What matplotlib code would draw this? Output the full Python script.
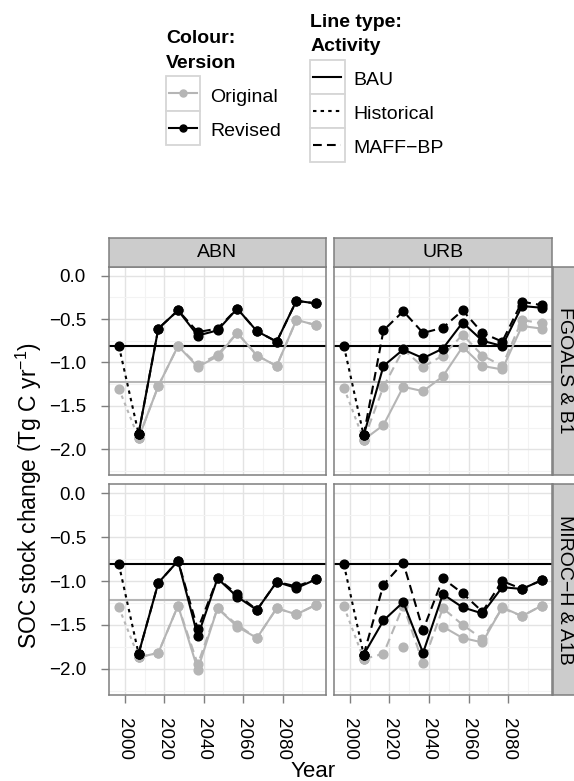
import matplotlib
matplotlib.use("Agg")
import matplotlib.pyplot as plt
import numpy as np
from matplotlib.patches import Rectangle

plt.rcParams['font.family'] = ['Liberation Sans', 'DejaVu Sans']
plt.rcParams['mathtext.fontset'] = 'custom'
plt.rcParams['mathtext.rm'] = 'Liberation Sans'
plt.rcParams['mathtext.it'] = 'Liberation Sans:italic'

W, H = 574, 781

# ---- data ----
hist_year = 1997
years = [2007, 2017, 2027, 2037, 2047, 2057, 2067, 2077, 2087, 2097]

activities = ["ABN", "URB"]
models = ["FGOALS & B1", "MIROC\u2212H & A1B"]

# reference levels (horizontal lines)
ref_revised = -0.81
ref_original = -1.22

# 1997 historical value per panel: FGOALS-ABN, FGOALS-URB, MIROC-ABN, MIROC-URB
hist_revised = [-0.81, -0.81, -0.81, -0.81]
hist_original = [-1.30, -1.29, -1.30, -1.29]

# FGOALS & B1, ABN
fg_abn_rev_bau = [-1.82, -0.61, -0.40, -0.69, -0.63, -0.38, -0.64, -0.76, -0.29, -0.32]
fg_abn_rev_maff = [-1.82, -0.61, -0.40, -0.65, -0.61, -0.38, -0.64, -0.76, -0.29, -0.32]
fg_abn_org_bau = [-1.87, -1.27, -0.81, -1.05, -0.93, -0.66, -0.92, -1.04, -0.51, -0.57]
fg_abn_org_maff = [-1.87, -1.27, -0.81, -1.03, -0.91, -0.66, -0.92, -1.04, -0.51, -0.57]

# FGOALS & B1, URB
fg_urb_rev_bau = [-1.84, -1.04, -0.85, -0.95, -0.84, -0.54, -0.75, -0.81, -0.35, -0.37]
fg_urb_rev_maff = [-1.84, -0.63, -0.41, -0.66, -0.60, -0.40, -0.66, -0.76, -0.30, -0.34]
fg_urb_org_bau = [-1.89, -1.72, -1.28, -1.33, -1.16, -0.82, -1.04, -1.08, -0.58, -0.61]
fg_urb_org_maff = [-1.89, -1.28, -0.85, -1.05, -0.92, -0.68, -0.92, -1.04, -0.51, -0.55]

# MIROC-H & A1B, ABN
mi_abn_rev_bau = [-1.83, -1.02, -0.77, -1.63, -0.97, -1.18, -1.33, -1.01, -1.08, -0.98]
mi_abn_rev_maff = [-1.83, -1.02, -0.77, -1.55, -0.97, -1.15, -1.33, -1.01, -1.06, -0.98]
mi_abn_org_bau = [-1.87, -1.82, -1.28, -2.01, -1.31, -1.52, -1.65, -1.31, -1.38, -1.27]
mi_abn_org_maff = [-1.87, -1.82, -1.28, -1.95, -1.31, -1.50, -1.65, -1.31, -1.38, -1.27]

# MIROC-H & A1B, URB
mi_urb_rev_bau = [-1.84, -1.45, -1.24, -1.82, -1.15, -1.30, -1.37, -1.07, -1.09, -0.99]
mi_urb_rev_maff = [-1.84, -1.04, -0.79, -1.56, -0.97, -1.14, -1.35, -1.00, -1.09, -0.99]
mi_urb_org_bau = [-1.89, np.nan, -1.75, np.nan, -1.52, -1.65, -1.70, -1.30, -1.40, -1.28]
mi_urb_org_maff = [-1.89, -1.83, -1.28, -1.94, -1.31, -1.50, -1.66, -1.31, -1.40, -1.28]

xticks = [2000, 2020, 2040, 2060, 2080]
xtick_labels = ["2000", "2020", "2040", "2060", "2080"]
yticks = [0.0, -0.5, -1.0, -1.5, -2.0]
ytick_labels = ["0.0", "\u22120.5", "\u22121.0", "\u22121.5", "\u22122.0"]

panels = {
    (0, 0): (fg_abn_rev_bau, fg_abn_rev_maff, fg_abn_org_bau, fg_abn_org_maff),
    (0, 1): (fg_urb_rev_bau, fg_urb_rev_maff, fg_urb_org_bau, fg_urb_org_maff),
    (1, 0): (mi_abn_rev_bau, mi_abn_rev_maff, mi_abn_org_bau, mi_abn_org_maff),
    (1, 1): (mi_urb_rev_bau, mi_urb_rev_maff, mi_urb_org_bau, mi_urb_org_maff),
}

# ---- style ----
BLACK = "black"
GREY = "#b5b5b5"
BORDER = "#7f7f7f"
LW = 1.5
MS = 6.3
DOTTED = (0, (1.65, 2.0))
DASHED = (0, (4.2, 2.5))

fig = plt.figure(figsize=(W / 100, H / 100), dpi=100)


def add_px_axes(x0, y0, x1, y1):
    return fig.add_axes([x0 / W, 1 - y1 / H, (x1 - x0) / W, (y1 - y0) / H])


cols = [(109, 326), (334, 551.7)]
rows = [(266.5, 475), (484.3, 694.5)]

for (r, c), (rev_bau, rev_maff, org_bau, org_maff) in panels.items():
    ax = add_px_axes(cols[c][0], rows[r][0], cols[c][1], rows[r][1])
    ax.set_xlim(1992, 2102)
    ax.set_ylim(-2.295, 0.105)
    ax.set_xticks(xticks)
    ax.set_xticks([2010, 2030, 2050, 2070, 2090], minor=True)
    ax.set_yticks(yticks)
    ax.set_yticks([-0.25, -0.75, -1.25, -1.75, -2.25], minor=True)
    ax.grid(which="major", color="#e3e3e3", lw=1.0)
    ax.grid(which="minor", color="#f3f3f3", lw=0.8)
    ax.set_axisbelow(True)
    for s in ax.spines.values():
        s.set_color(BORDER)
        s.set_linewidth(1.1)
    ax.tick_params(which="minor", length=0)
    ax.tick_params(which="major", length=6.1, width=1.0, color=BORDER, pad=10.5)
    ax.set_xticklabels(xtick_labels, rotation=-90, fontsize=13.5)
    ax.set_yticklabels(ytick_labels, fontsize=13.5)
    if r == 0:
        ax.tick_params(axis="x", bottom=False, labelbottom=False)
    if c == 1:
        ax.tick_params(axis="y", left=False, labelleft=False)

    k = r * 2 + c
    ax.axhline(ref_original, color=GREY, lw=LW, zorder=1)
    ax.axhline(ref_revised, color=BLACK, lw=LW, zorder=1)
    for colr, hist, bau, maff, z in [(GREY, hist_original[k], org_bau, org_maff, 2),
                                     (BLACK, hist_revised[k], rev_bau, rev_maff, 3)]:
        ax.plot([hist_year, years[0]], [hist, bau[0]], color=colr, lw=LW, ls=DOTTED,
                marker="o", ms=MS, zorder=z)
        ax.plot(years, maff, color=colr, lw=LW, ls=DASHED, marker="o", ms=MS, zorder=z)
        ax.plot(years, bau, color=colr, lw=LW, ls="-", marker="o", ms=MS, zorder=z)

    # strips
    if r == 0:
        sax = add_px_axes(cols[c][0], 238.3, cols[c][1], rows[0][0])
        sax.set_facecolor("#cccccc")
        sax.set_xticks([])
        sax.set_yticks([])
        for s in sax.spines.values():
            s.set_color(BORDER)
            s.set_linewidth(1.1)
        sax.text(0.5, 0.5, activities[c], ha="center", va="center", fontsize=14,
                 transform=sax.transAxes)
    if c == 1:
        sax = add_px_axes(552.7, rows[r][0], 580.4, rows[r][1])
        sax.set_facecolor("#cccccc")
        sax.set_xticks([])
        sax.set_yticks([])
        for s in sax.spines.values():
            s.set_color(BORDER)
            s.set_linewidth(1.1)
        fig.text(565 / W, 1 - (rows[r][0] + rows[r][1]) / 2 / H, models[r], ha="center",
                 va="center", fontsize=14, rotation=-90)

# axis titles
fig.text(313 / W, 1 - 777 / H, "Year", ha="center", va="baseline", fontsize=16)
fig.text(36.5 / W, 1 - 496 / H, "SOC stock change (Tg C yr$^{\u22121}$)", rotation=90,
         rotation_mode="anchor", ha="center", va="baseline", fontsize=16.5)

# legends (drawn in pixel space)
lax = fig.add_axes([0, 0, 1, 1])
lax.set_xlim(0, W)
lax.set_ylim(H, 0)
lax.axis("off")

lax.text(166, 43.3, "Colour:", fontsize=14, fontweight="bold", va="baseline")
lax.text(166, 68.3, "Version", fontsize=14, fontweight="bold", va="baseline")
for i, (lab, colr) in enumerate([("Original", GREY), ("Revised", BLACK)]):
    y0 = 76 + i * 34.5
    lax.add_patch(Rectangle((166, y0), 34, 34.5, facecolor="white", edgecolor="#d6d6d6", lw=1.3))
    lax.plot([169, 197], [y0 + 17.2, y0 + 17.2], color=colr, lw=LW)
    lax.plot([183], [y0 + 17.2], "o", color=colr, ms=MS * 0.8)
    lax.text(210, y0 + 25.5, lab, fontsize=14, va="baseline")

lax.text(310.5, 26.7, "Line type:", fontsize=14, fontweight="bold", va="baseline")
lax.text(310.5, 50.7, "Activity", fontsize=14, fontweight="bold", va="baseline")
for i, (lab, ls) in enumerate([("BAU", "-"), ("Historical", DOTTED), ("MAFF\u2212BP", DASHED)]):
    y0 = 59.5 + i * 34.3
    lax.add_patch(Rectangle((310, y0), 35, 34.3, facecolor="white", edgecolor="#d6d6d6", lw=1.3))
    lax.plot([313.3, 340.7], [y0 + 17.2, y0 + 17.2], color=BLACK, lw=LW, ls=ls)
    lax.text(353, y0 + 25.3, lab, fontsize=14, va="baseline")

fig.savefig("out.png", dpi=100)
